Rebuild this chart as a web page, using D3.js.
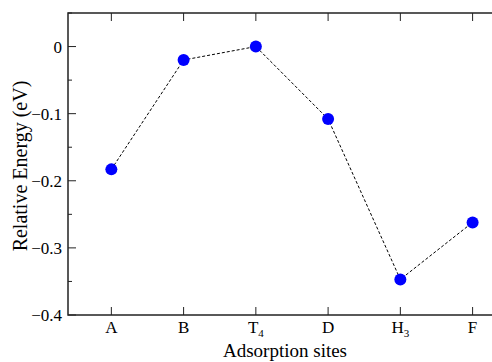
<!DOCTYPE html>
<html>
<head>
<meta charset="utf-8">
<script src="https://cdn.jsdelivr.net/npm/d3@7"></script>
<style>
  body { margin: 0; background: #fff; }
  svg text { font-family: "Liberation Serif", "DejaVu Serif", serif; fill: #000; }
</style>
</head>
<body>
<svg id="chart" width="492" height="362"></svg>
<script>
// Data
const sites = ["A", "B", "T", "D", "H", "F"];
const siteSubs = ["", "", "4", "", "3", ""];
const energies = [-0.183, -0.020, 0.000, -0.108, -0.347, -0.262];
const yTicks = [0, -0.1, -0.2, -0.3, -0.4];
const yMinorTicks = [0.05, -0.05, -0.15, -0.25, -0.35];

const plotLeft = 68, plotTop = 13, plotBottom = 315;

const svg = d3.select("#chart");

const x = d3.scaleLinear().domain([0.4, 6.6]).range([plotLeft, plotLeft + 6.2 * 72.25]);
const y = d3.scaleLinear().domain([-0.4, 0.05]).range([plotBottom, plotTop]);

const plotRight = x(6.6);

// frame
svg.append("rect")
  .attr("x", plotLeft).attr("y", plotTop)
  .attr("width", plotRight - plotLeft).attr("height", plotBottom - plotTop)
  .attr("fill", "none").attr("stroke", "#222").attr("stroke-width", 1.5);

// x ticks (bottom and top, inward)
const idx = sites.map((d, i) => i + 1);
svg.selectAll("line.xt").data(idx).enter().append("line")
  .attr("x1", d => x(d)).attr("x2", d => x(d))
  .attr("y1", plotBottom).attr("y2", plotBottom - 8)
  .attr("stroke", "#222").attr("stroke-width", 1);
svg.selectAll("line.xtt").data(idx).enter().append("line")
  .attr("x1", d => x(d)).attr("x2", d => x(d))
  .attr("y1", plotTop).attr("y2", plotTop + 8)
  .attr("stroke", "#222").attr("stroke-width", 1);

// y ticks (left, inward)
svg.selectAll("line.yt").data(yTicks).enter().append("line")
  .attr("x1", plotLeft).attr("x2", plotLeft + 8)
  .attr("y1", d => y(d)).attr("y2", d => y(d))
  .attr("stroke", "#222").attr("stroke-width", 1);
svg.selectAll("line.ym").data(yMinorTicks).enter().append("line")
  .attr("x1", plotLeft).attr("x2", plotLeft + 4)
  .attr("y1", d => y(d)).attr("y2", d => y(d))
  .attr("stroke", "#222").attr("stroke-width", 1);

// y tick labels
svg.selectAll("text.yl").data(yTicks).enter().append("text")
  .attr("x", plotLeft - 6).attr("y", d => y(d) + 6)
  .attr("text-anchor", "end").attr("font-size", 17)
  .text(d => d === 0 ? "0" : d3.format(".1f")(d));

// x tick labels with subscripts
const xl = svg.selectAll("text.xl").data(idx).enter().append("text")
  .attr("x", d => x(d)).attr("y", 333)
  .attr("text-anchor", "middle").attr("font-size", 17);
xl.append("tspan").text((d, i) => sites[i]);
xl.append("tspan")
  .attr("dy", 4).attr("font-size", 11)
  .text((d, i) => siteSubs[i]);

// axis titles
svg.append("text")
  .attr("x", 285).attr("y", 357)
  .attr("text-anchor", "middle").attr("font-size", 19)
  .text("Adsorption sites");
svg.append("text")
  .attr("transform", `translate(27, 166) rotate(-90)`)
  .attr("text-anchor", "middle").attr("font-size", 20)
  .text("Relative Energy (eV)");

// dashed line
const line = d3.line().x((d, i) => x(i + 1)).y(d => y(d));
svg.append("path")
  .datum(energies)
  .attr("d", line)
  .attr("fill", "none").attr("stroke", "#000")
  .attr("stroke-width", 1).attr("stroke-dasharray", "3,2");

// markers
svg.selectAll("circle").data(energies).enter().append("circle")
  .attr("cx", (d, i) => x(i + 1)).attr("cy", d => y(d))
  .attr("r", 6).attr("fill", "#0000ff");
</script>
</body>
</html>
